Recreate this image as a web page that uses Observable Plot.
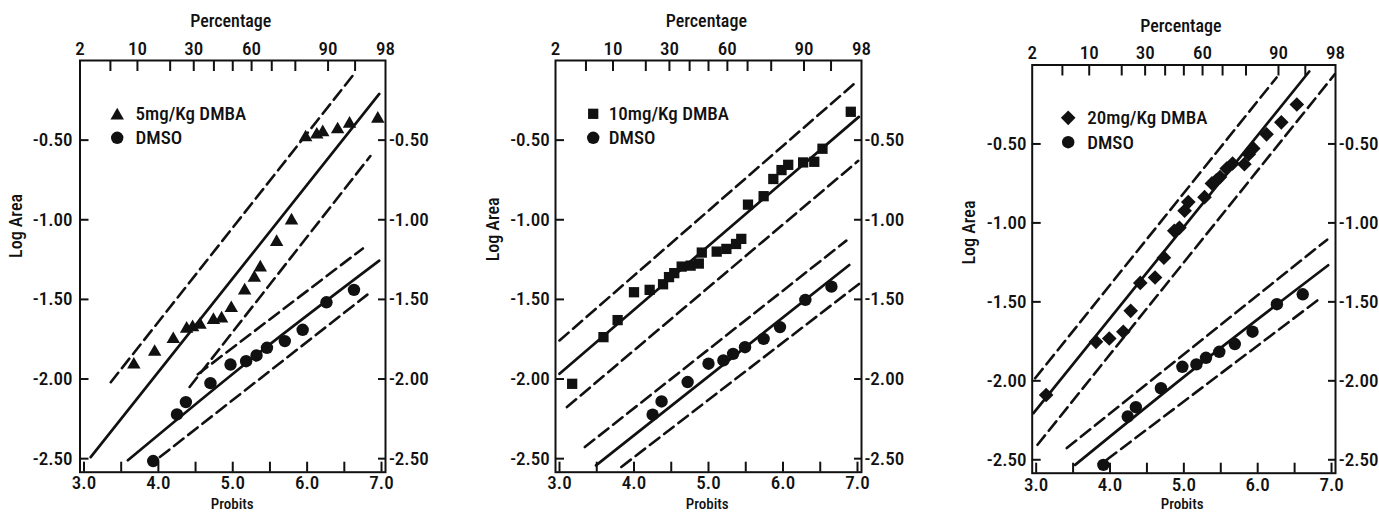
<!DOCTYPE html>
<html>
<head>
<meta charset="utf-8">
<script src="https://cdn.jsdelivr.net/npm/d3@7"></script>
<script src="https://cdn.jsdelivr.net/npm/@observablehq/plot@0.6"></script>
<style>
  html, body { margin: 0; padding: 0; background: #fff; }
  body { width: 1379px; height: 514px; overflow: hidden; position: relative; }
  .panel { position: absolute; top: 0; }
  .panel svg { overflow: visible; }
</style>
</head>
<body>
<div id="p1" class="panel" style="left:0px"></div>
<div id="p2" class="panel" style="left:460px"></div>
<div id="p3" class="panel" style="left:920px"></div>
<script>
// ---------- axis tick values ----------
const percentLabels = [2, 10, 30, 60, 90, 98];
const percentTicks = [5, 10, 20, 30, 40, 50, 60, 70, 80, 90, 95];
const probitLabels = [3, 4, 5, 6, 7];
const probitTicks = [3, 3.5, 4, 4.5, 5, 5.5, 6, 6.5, 7];
const logAreaTicks = [-0.5, -1.0, -1.5, -2.0, -2.5];

// ---------- panel 1: 5 mg/Kg DMBA ----------
const dmba5Probit = [3.67, 3.95, 4.20, 4.38, 4.46, 4.56, 4.74, 4.85, 4.98, 5.16, 5.29, 5.37, 5.59, 5.79, 5.98, 6.13, 6.21, 6.41, 6.57, 6.95];
const dmba5Log    = [-1.91, -1.83, -1.75, -1.685, -1.675, -1.66, -1.63, -1.62, -1.555, -1.445, -1.365, -1.30, -1.14, -1.005, -0.483, -0.466, -0.451, -0.433, -0.398, -0.366];
const dmso1Probit = [3.93, 4.25, 4.37, 4.70, 4.97, 5.18, 5.32, 5.46, 5.70, 5.94, 6.26, 6.63];
const dmso1Log    = [-2.515, -2.222, -2.145, -2.026, -1.909, -1.888, -1.852, -1.804, -1.762, -1.691, -1.518, -1.44];
const lines1 = [
  {kind: "dash", probit: [3.36, 6.63], log: [-2.02, -0.085]},
  {kind: "fit",  probit: [3.09, 6.97], log: [-2.49, -0.21]},
  {kind: "dash", probit: [4.42, 6.85], log: [-2.05, -0.60]},
  {kind: "dash", probit: [4.53, 6.75], log: [-1.97, -1.18]},
  {kind: "fit",  probit: [3.59, 5.28, 6.97], log: [-2.51, -1.863, -1.257]},
  {kind: "dash", probit: [4.02, 6.81], log: [-2.49, -1.47]}
];

// ---------- panel 2: 10 mg/Kg DMBA ----------
const dmba10Probit = [3.17, 3.59, 3.78, 4.00, 4.21, 4.39, 4.47, 4.54, 4.64, 4.76, 4.87, 4.91, 5.11, 5.24, 5.37, 5.44, 5.53, 5.74, 5.87, 5.98, 6.07, 6.27, 6.42, 6.53, 6.91];
const dmba10Log    = [-2.03, -1.737, -1.63, -1.455, -1.44, -1.405, -1.36, -1.335, -1.294, -1.288, -1.275, -1.206, -1.20, -1.183, -1.152, -1.12, -0.905, -0.852, -0.744, -0.688, -0.655, -0.64, -0.636, -0.554, -0.322];
const dmso2Probit = [4.25, 4.37, 4.72, 5.00, 5.20, 5.33, 5.49, 5.74, 5.96, 6.30, 6.65];
const dmso2Log    = [-2.224, -2.141, -2.019, -1.904, -1.883, -1.842, -1.80, -1.748, -1.674, -1.503, -1.42];
const lines2 = [
  {kind: "dash", probit: [3.0, 7.0], log: [-1.758, -0.128]},
  {kind: "fit",  probit: [3.0, 7.018], log: [-1.967, -0.354]},
  {kind: "dash", probit: [3.10, 7.01], log: [-2.176, -0.63]},
  {kind: "dash", probit: [3.34, 6.85], log: [-2.427, -1.131]},
  {kind: "fit",  probit: [3.49, 6.89], log: [-2.542, -1.284]},
  {kind: "dash", probit: [3.83, 7.02], log: [-2.552, -1.403]}
];

// ---------- panel 3: 20 mg/Kg DMBA ----------
const dmba20Probit = [3.135, 3.81, 3.99, 4.18, 4.28, 4.41, 4.61, 4.73, 4.87, 4.94, 5.01, 5.06, 5.28, 5.38, 5.44, 5.49, 5.58, 5.66, 5.82, 5.88, 5.94, 6.12, 6.32, 6.53];
const dmba20Log    = [-2.09, -1.753, -1.732, -1.689, -1.557, -1.38, -1.346, -1.22, -1.05, -1.031, -0.923, -0.868, -0.837, -0.75, -0.73, -0.71, -0.656, -0.624, -0.628, -0.565, -0.528, -0.439, -0.363, -0.25];
const dmso3Probit = [3.91, 4.24, 4.35, 4.69, 4.98, 5.17, 5.30, 5.48, 5.69, 5.93, 6.26, 6.61];
const dmso3Log    = [-2.532, -2.226, -2.167, -2.047, -1.911, -1.896, -1.854, -1.816, -1.767, -1.689, -1.515, -1.452];
const lines3 = [
  {kind: "dash", probit: [2.986, 6.256], log: [-1.984, -0.079]},
  {kind: "fit",  probit: [2.964, 6.698], log: [-2.205, -0.041]},
  {kind: "dash", probit: [3.018, 7.045], log: [-2.405, -0.058]},
  {kind: "dash", probit: [3.415, 6.941], log: [-2.426, -1.106]},
  {kind: "fit",  probit: [3.528, 5.219, 6.955], log: [-2.532, -1.894, -1.268]},
  {kind: "dash", probit: [3.956, 6.842], log: [-2.50, -1.479]}
];

// ---------- probit transform (inverse normal CDF, Acklam) ----------
function invNorm(p) {
  const a = [-3.969683028665376e+01, 2.209460984245205e+02, -2.759285104469687e+02, 1.383577518672690e+02, -3.066479806614716e+01, 2.506628277459239e+00];
  const b = [-5.447609879822406e+01, 1.615858368580409e+02, -1.556989798598866e+02, 6.680131188771972e+01, -1.328068155288572e+01];
  const c = [-7.784894002430293e-03, -3.223964580411365e-01, -2.400758277161838e+00, -2.549671348593284e+00, 4.374664141464968e+00, 2.938163982698783e+00];
  const d = [7.784695709041462e-03, 3.224671290700398e-01, 2.445134137142996e+00, 3.754408661907416e+00];
  const plow = 0.02425;
  let q, r;
  if (p < plow) {
    q = Math.sqrt(-2 * Math.log(p));
    return (((((c[0]*q+c[1])*q+c[2])*q+c[3])*q+c[4])*q+c[5]) / ((((d[0]*q+d[1])*q+d[2])*q+d[3])*q+1);
  } else if (p <= 1 - plow) {
    q = p - 0.5; r = q * q;
    return (((((a[0]*r+a[1])*r+a[2])*r+a[3])*r+a[4])*r+a[5])*q / (((((b[0]*r+b[1])*r+b[2])*r+b[3])*r+b[4])*r+1);
  } else {
    q = Math.sqrt(-2 * Math.log(1 - p));
    return -(((((c[0]*q+c[1])*q+c[2])*q+c[3])*q+c[4])*q+c[5]) / ((((d[0]*q+d[1])*q+d[2])*q+d[3])*q+1);
  }
}
const probit = pct => 5 + invNorm(pct / 100);

const FONT = "'Liberation Sans Narrow', 'Roboto Condensed', 'DejaVu Sans Condensed', 'Liberation Sans', sans-serif";
const INK = "#111";

function panel(cfg) {
  const H = 514;
  const W = cfg.width - cfg.ml - cfg.mr;
  const FH = H - cfg.mt - cfg.mb;
  const rows = cfg.lines.flatMap((L, i) => L.probit.map((p, j) => ({id: i, kind: L.kind, x: p, y: L.log[j]})));
  const dashRows = rows.filter(d => d.kind === "dash");
  const fitRows = rows.filter(d => d.kind === "fit");
  const symStroke = cfg.symbol === "diamond2" ? null : undefined;
  return Plot.plot({
    width: cfg.width, height: H,
    marginLeft: cfg.ml, marginRight: cfg.mr, marginTop: cfg.mt, marginBottom: cfg.mb,
    x: {domain: [probit(2), probit(98)], axis: null},
    y: {domain: [-2.585, 0], axis: null},
    style: {fontFamily: FONT, fontSize: "19px", fontWeight: 500, color: INK, background: "transparent", overflow: "visible"},
    marks: [
      Plot.frame({stroke: INK, strokeWidth: 2}),
      // inward ticks
      Plot.tickY(logAreaTicks, {y: d => d, insetRight: W - 9, stroke: INK, strokeWidth: 2}),
      Plot.tickY(logAreaTicks, {y: d => d, insetLeft: W - 7, stroke: INK, strokeWidth: 2}),
      Plot.tickX(probitTicks, {x: d => d, insetTop: FH - 10, stroke: INK, strokeWidth: 2}),
      Plot.tickX(percentTicks, {x: d => probit(d), insetBottom: FH - 11, stroke: INK, strokeWidth: 2}),
      // tick labels
      Plot.text(logAreaTicks, {y: d => d, text: d => d.toFixed(2), frameAnchor: "left", textAnchor: "end", dx: cfg.leftDx, fill: INK}),
      Plot.text(logAreaTicks, {y: d => d, text: d => d.toFixed(2), frameAnchor: "right", textAnchor: "start", dx: cfg.rightDx, fill: INK}),
      Plot.text(probitLabels, {x: d => d, text: d => d.toFixed(1), frameAnchor: "bottom", lineAnchor: "middle", dy: cfg.botDy, fill: INK}),
      Plot.text(percentLabels, {x: d => probit(d), text: d => String(d), frameAnchor: "top", lineAnchor: "middle", dy: cfg.topDy, fill: INK}),
      // axis titles
      Plot.text(["Percentage"], {text: d => d, frameAnchor: "top", lineAnchor: "middle", dx: cfg.pctDx, dy: cfg.pctDy, fontSize: 18, fill: INK}),
      Plot.text(["Log Area"], {text: d => d, frameAnchor: "left", rotate: -90, lineAnchor: "middle", dx: cfg.logDx, dy: cfg.logDy, fontSize: 18, fill: INK}),
      Plot.text(["Probits"], {text: d => d, frameAnchor: "bottom", lineAnchor: "bottom", dx: cfg.probDx, dy: cfg.probDy, fontSize: 15, fill: INK}),
      // fitted lines and bands
      Plot.line(dashRows, {x: "x", y: "y", z: "id", stroke: INK, strokeWidth: 2.6, strokeDasharray: "12,6", curve: "linear"}),
      Plot.line(fitRows, {x: "x", y: "y", z: "id", stroke: INK, strokeWidth: 2.7, curve: "natural"}),
      // points
      Plot.dot(cfg.dmsoLog, {x: cfg.dmsoProbit, y: cfg.dmsoLog, r: 6.2, symbol: "circle", fill: INK, stroke: null}),
      Plot.dot(cfg.dmbaLog, {x: cfg.dmbaProbit, y: cfg.dmbaLog, r: cfg.r, symbol: cfg.symbol, fill: INK, stroke: symStroke}),
      // legend
      Plot.dot([cfg.dmbaLabel], {frameAnchor: "top-left", dx: cfg.legDx, dy: cfg.legDy1, r: cfg.r, symbol: cfg.symbol, fill: INK, stroke: symStroke}),
      Plot.dot(["DMSO"], {frameAnchor: "top-left", dx: cfg.legDx, dy: cfg.legDy2, r: 6.2, symbol: "circle", fill: INK, stroke: null}),
      Plot.text([cfg.dmbaLabel], {text: d => d, frameAnchor: "top-left", textAnchor: "start", lineAnchor: "middle", dx: cfg.legTx, dy: cfg.legTy1, fill: INK}),
      Plot.text(["DMSO"], {text: d => d, frameAnchor: "top-left", textAnchor: "start", lineAnchor: "middle", dx: cfg.legTx, dy: cfg.legTy2, fill: INK})
    ]
  });
}

const panels = [
  {el: "p1", width: 460, ml: 79.5, mr: 75, mt: 60, mb: 42.3,
   leftDx: -7.5, rightDx: 3.5, botDy: 10.5, topDy: -11.7, pctDx: -2, pctDy: -39.3, logDx: -63.5, logDy: -8.4, probDx: -0.5, probDy: 36.5,
   legDx: 37.2, legDy1: 55, legDy2: 77.3, legTx: 55.5, legTy1: 53, legTy2: 77.8,
   dmbaLabel: "5mg/Kg DMBA", symbol: "triangle", r: 5,
   dmbaProbit: dmba5Probit, dmbaLog: dmba5Log, dmsoProbit: dmso1Probit, dmsoLog: dmso1Log, lines: lines1},
  {el: "p2", width: 460, ml: 95, mr: 59, mt: 60, mb: 42.3,
   leftDx: -5.7, rightDx: 3, botDy: 10.5, topDy: -11.7, pctDx: -2.2, pctDy: -39.3, logDx: -62.3, logDy: -5, probDx: -1.3, probDy: 36.5,
   legDx: 37.7, legDy1: 53.3, legDy2: 77.3, legTx: 53.3, legTy1: 53, legTy2: 77.8,
   dmbaLabel: "10mg/Kg DMBA", symbol: "square", r: 5.8,
   dmbaProbit: dmba10Probit, dmbaLog: dmba10Log, dmsoProbit: dmso2Probit, dmsoLog: dmso2Log, lines: lines2},
  {el: "p3", width: 459, ml: 111.7, mr: 44, mt: 64.5, mb: 41.3,
   leftDx: -5.7, rightDx: 3.3, botDy: 11.5, topDy: -11.8, pctDx: -3, pctDy: -38.5, logDx: -62.7, logDy: -4.6, probDx: -1.7, probDy: 35.5,
   legDx: 36, legDy1: 52.8, legDy2: 77.2, legTx: 55, legTy1: 52.8, legTy2: 77.5,
   dmbaLabel: "20mg/Kg DMBA", symbol: "diamond2", r: 6.6,
   dmbaProbit: dmba20Probit, dmbaLog: dmba20Log, dmsoProbit: dmso3Probit, dmsoLog: dmso3Log, lines: lines3}
];

for (const cfg of panels) {
  document.getElementById(cfg.el).appendChild(panel(cfg));
}
</script>
</body>
</html>
